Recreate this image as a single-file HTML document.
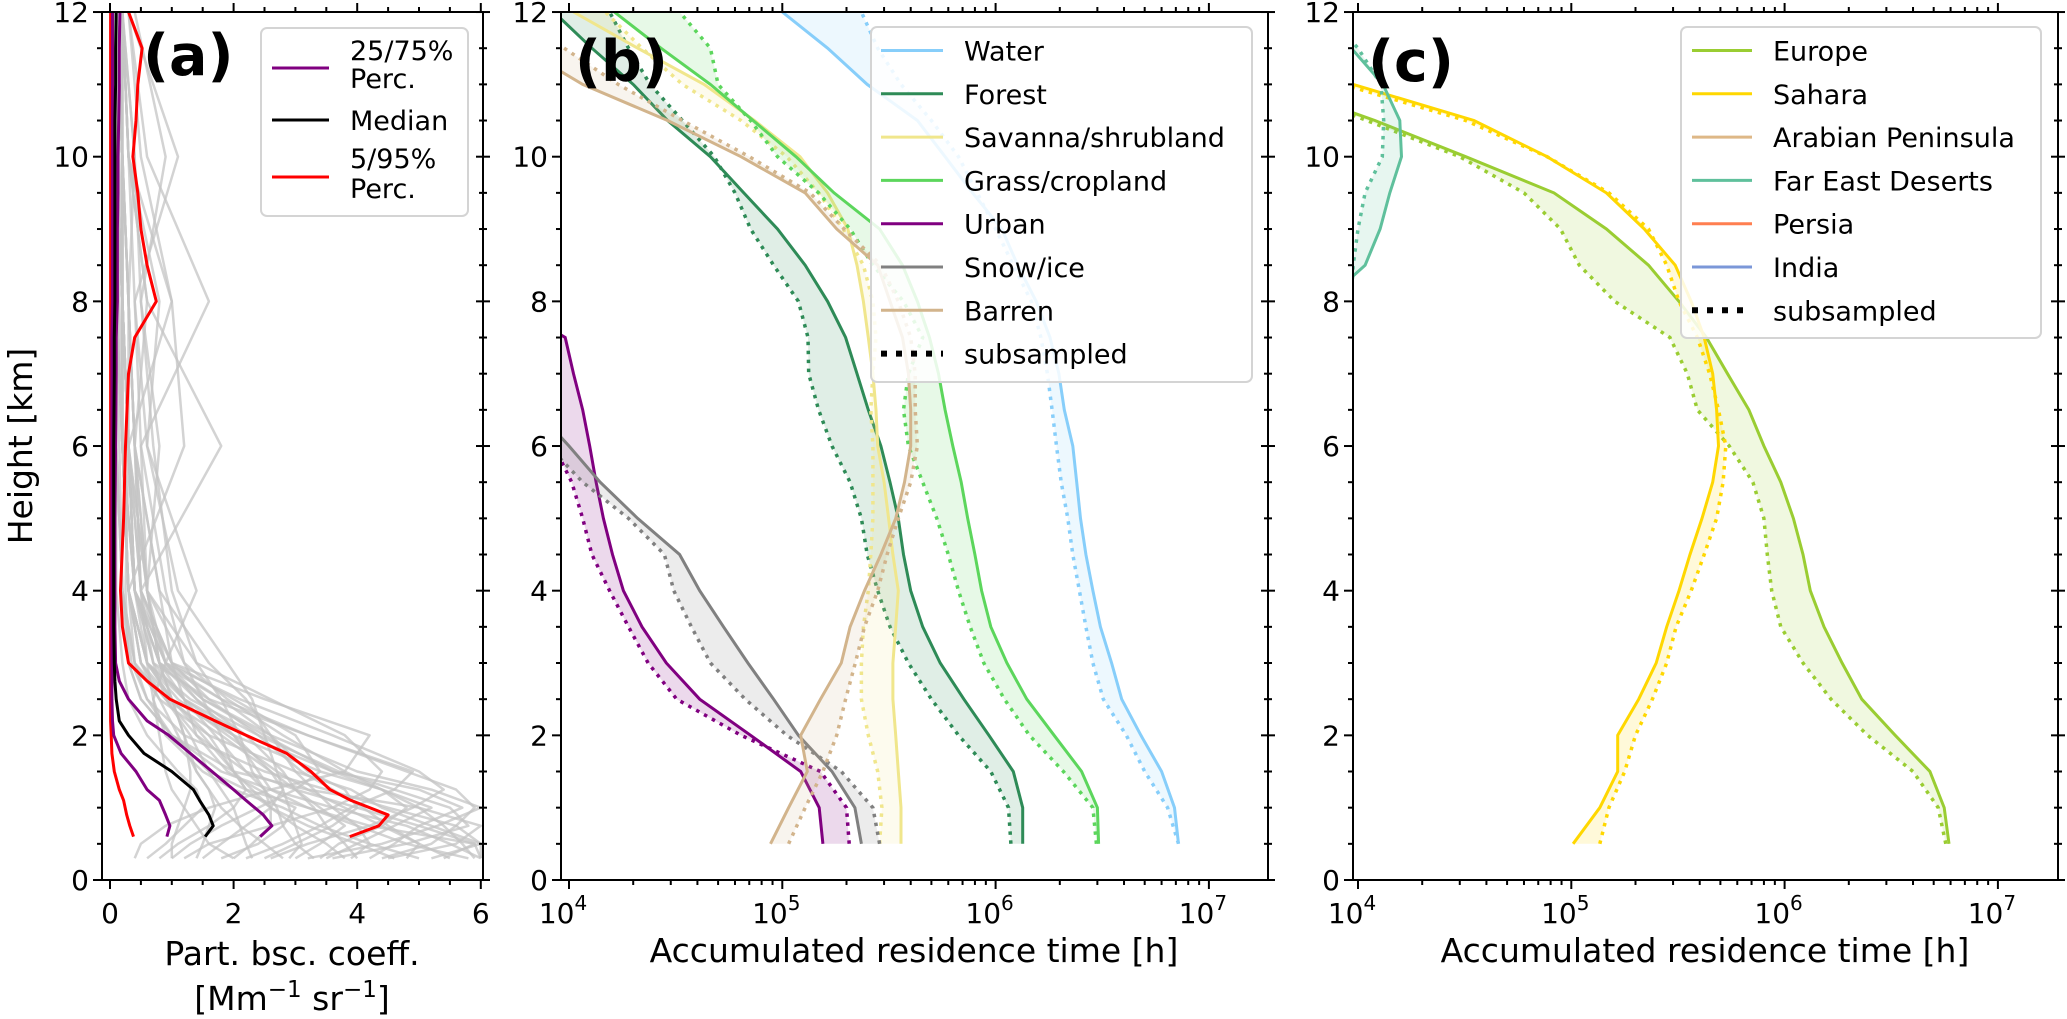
<!DOCTYPE html>
<html><head><meta charset="utf-8"><style>
html,body{margin:0;padding:0;background:#fff;}
svg{display:block;font-family:"DejaVu Sans","Liberation Sans",sans-serif;}
</style></head><body>
<svg id="chart" width="2067" height="1019" viewBox="0 0 2067 1019" xmlns="http://www.w3.org/2000/svg">
<defs>
<clipPath id="clipA"><rect x="102" y="12" width="381" height="868"/></clipPath>
<clipPath id="clipB"><rect x="561" y="12" width="707" height="868"/></clipPath>
<clipPath id="clipC"><rect x="1353" y="12" width="705" height="868"/></clipPath>
</defs>
<rect x="0" y="0" width="2067" height="1019" fill="#fff"/>
<g id="plotA" clip-path="url(#clipA)"></g>
<g id="plotB" clip-path="url(#clipB)"></g>
<g id="plotC" clip-path="url(#clipC)"></g>
<g id="axes"></g>
<rect x="102" y="12" width="381" height="868" fill="none" stroke="#000" stroke-width="2"/>
<rect x="561" y="12" width="707" height="868" fill="none" stroke="#000" stroke-width="2"/>
<rect x="1353" y="12" width="705" height="868" fill="none" stroke="#000" stroke-width="2"/>
<text x="143" y="75" font-size="57" font-weight="bold">(a)</text>
<text x="575" y="81" font-size="57" font-weight="bold">(b)</text>
<text x="1368" y="81" font-size="57" font-weight="bold">(c)</text>
<text transform="translate(32,446) rotate(-90)" text-anchor="middle" font-size="33">Height [km]</text>
<text x="292" y="965" text-anchor="middle" font-size="33">Part. bsc. coeff.</text>
<text x="292" y="1010" text-anchor="middle" font-size="33">[Mm<tspan dy="-13" font-size="23">−1</tspan><tspan dy="13"> sr</tspan><tspan dy="-13" font-size="23">−1</tspan><tspan dy="13">]</tspan></text>
<text x="914" y="962" text-anchor="middle" font-size="33">Accumulated residence time [h]</text>
<text x="1705" y="962" text-anchor="middle" font-size="33">Accumulated residence time [h]</text>
<g id="legends"></g>
</svg>
<script>
// ---------- data ----------
const H = [0.5,1,1.5,2,2.5,3,3.5,4,4.5,5,5.5,6,6.5,7,7.5,8,8.5,9,9.5,10,10.5,11,11.5,12];
const waterS = [7.2e6,6.9e6,6.0e6,4.8e6,3.9e6,3.5e6,3.1e6,2.86e6,2.65e6,2.5e6,2.4e6,2.3e6,2.1e6,1.98e6,1.8e6,1.55e6,1.27e6,1.07e6,7.8e5,5.8e5,4.3e5,2.5e5,1.63e5,1.0e5];
const waterD = [7.2e6,6.4e6,5.0e6,4.1e6,3.2e6,2.86e6,2.65e6,2.47e6,2.3e6,2.18e6,2.03e6,1.93e6,1.84e6,1.75e6,1.63e6,1.47e6,1.21e6,1.0e6,8.2e5,6.7e5,5.0e5,3.6e5,2.8e5,2.35e5];
const forestS = [1.34e6,1.34e6,1.21e6,9.3e5,7.1e5,5.5e5,4.55e5,4.0e5,3.7e5,3.5e5,3.2e5,2.9e5,2.53e5,2.24e5,1.98e5,1.63e5,1.28e5,9.5e4,6.6e4,4.6e4,2.9e4,2.0e4,1.28e4,8.5e3];
const forestD = [1.18e6,1.15e6,9.5e5,6.7e5,5.0e5,3.9e5,3.2e5,2.8e5,2.5e5,2.35e5,2.08e5,1.71e5,1.48e5,1.33e5,1.32e5,1.19e5,9.1e4,7.1e4,6.0e4,4.8e4,3.4e4,2.4e4,1.9e4,1.55e4];
const savS = [3.6e5,3.6e5,3.5e5,3.4e5,3.3e5,3.3e5,3.4e5,3.5e5,3.3e5,3.15e5,3.0e5,2.8e5,2.75e5,2.66e5,2.53e5,2.4e5,2.24e5,2.03e5,1.63e5,1.21e5,7.4e4,4.3e4,2.1e4,1.05e4];
const savD = [2.86e5,2.93e5,2.8e5,2.53e5,2.35e5,2.35e5,2.4e5,2.53e5,2.6e5,2.66e5,2.66e5,2.66e5,2.6e5,2.66e5,2.75e5,2.66e5,2.4e5,1.93e5,1.48e5,1.05e5,6.4e4,3.4e4,2.2e4,1.48e4];
const grassS = [3.04e6,3.0e6,2.53e6,1.88e6,1.4e6,1.13e6,9.5e5,8.6e5,8.0e5,7.4e5,6.9e5,6.3e5,5.8e5,5.4e5,4.9e5,4.3e5,3.66e5,2.86e5,1.75e5,1.16e5,7.3e4,4.6e4,2.7e4,1.63e4];
const grassD = [2.97e6,2.86e6,2.08e6,1.44e6,1.1e6,8.8e5,7.6e5,6.7e5,6.0e5,5.3e5,4.55e5,3.9e5,3.7e5,3.9e5,4.55e5,3.7e5,2.66e5,2.08e5,1.48e5,9.5e4,7.1e4,5.0e4,4.6e4,3.3e4];
const urbanS = [1.55e5,1.49e5,1.22e5,7.1e4,4.1e4,2.86e4,2.2e4,1.8e4,1.6e4,1.45e4,1.34e4,1.25e4,1.16e4,1.05e4,9.6e3,5e3,4e3,4e3,4e3,4e3,4e3,4e3,4e3,4e3];
const urbanD = [2.06e5,2.0e5,1.51e5,6.4e4,3.2e4,2.35e4,1.9e4,1.55e4,1.28e4,1.16e4,1.03e4,8.5e3,5e3,4e3,4e3,4e3,4e3,4e3,4e3,4e3,4e3,4e3,4e3,4e3];
const snowS = [2.35e5,2.19e5,1.71e5,1.19e5,9.1e4,6.9e4,5.3e4,4.1e4,3.3e4,2.1e4,1.4e4,1.0e4,7e3,5e3,4e3,4e3,4e3,4e3,4e3,4e3,4e3,4e3,4e3,4e3];
const snowD = [2.86e5,2.66e5,1.89e5,1.05e5,6.7e4,4.6e4,3.75e4,3.1e4,2.8e4,1.9e4,1.16e4,8e3,5e3,4e3,4e3,4e3,4e3,4e3,4e3,4e3,4e3,4e3,4e3,4e3];
const barS = [8.8e4,1.07e5,1.31e5,1.22e5,1.51e5,1.89e5,2.08e5,2.43e5,2.9e5,3.4e5,3.74e5,4.0e5,4.0e5,3.9e5,3.66e5,3.2e5,2.8e5,1.8e5,1.28e5,6.4e4,2.9e4,1.16e4,6e3,4e3];
const barD = [1.07e5,1.28e5,1.55e5,1.8e5,1.98e5,2.2e5,2.43e5,2.8e5,3.1e5,3.5e5,4.0e5,4.3e5,4.2e5,4.2e5,4.0e5,3.5e5,2.9e5,1.95e5,1.35e5,7e4,3.4e4,1.7e4,9.5e3,5e3];
const eurS = [5.9e6,5.6e6,4.8e6,3.3e6,2.3e6,1.86e6,1.53e6,1.32e6,1.22e6,1.1e6,9.6e5,8.0e5,6.8e5,5.4e5,4.3e5,3.2e5,2.3e5,1.46e5,8.3e4,3.2e4,1.2e4,4e3,2e3,1e3];
const eurD = [5.7e6,5.25e6,4.0e6,2.45e6,1.65e6,1.22e6,9.6e5,8.7e5,8.3e5,8.0e5,7.1e5,5.5e5,3.9e5,3.5e5,2.9e5,1.6e5,1.09e5,8.9e4,6.0e4,3.0e4,1.1e4,4e3,2e3,1e3];
const sahS = [1.02e5,1.36e5,1.65e5,1.65e5,2.07e5,2.5e5,2.8e5,3.2e5,3.6e5,4.1e5,4.6e5,4.9e5,4.8e5,4.6e5,4.2e5,3.65e5,3.07e5,2.2e5,1.46e5,7.7e4,3.5e4,9.5e3,4e3,2e3];
const sahD = [1.36e5,1.5e5,1.78e5,2.0e5,2.4e5,2.8e5,3.1e5,3.65e5,4.2e5,4.8e5,5.15e5,5.3e5,4.9e5,4.45e5,3.9e5,3.2e5,2.8e5,2.3e5,1.5e5,7.7e4,3.2e4,8.5e3,4e3,2e3];
const feS = [3e3,3e3,3e3,3e3,3e3,3e3,3e3,3e3,3e3,3e3,3e3,3e3,3e3,3e3,3e3,7e3,1.08e4,1.27e4,1.41e4,1.6e4,1.57e4,1.31e4,9.3e3,7e3];
const feD = [3e3,3e3,3e3,3e3,3e3,3e3,3e3,3e3,3e3,3e3,3e3,3e3,3e3,3e3,6e3,9.3e3,9.5e3,1.0e4,1.08e4,1.3e4,1.32e4,1.28e4,1.0e4,7e3];

const hP = [0.6,0.75,0.9,1.1,1.25,1.5,1.75,2.0,2.2,2.5,2.75,3.0,3.5,4,5,6,7,7.5,8,8.5,9,9.5,10,10.5,11,11.5,12];
const p05 = [0.38,0.32,0.27,0.22,0.15,0.07,0.03,0.02,0.01,0.01,0.01,0.01,0.01,0.01,0.01,0.01,0.01,0.01,0.01,0.01,0.01,0.01,0.01,0.01,0.01,0.01,0.01];
const p25 = [0.92,0.97,0.9,0.8,0.6,0.42,0.18,0.06,0.04,0.03,0.03,0.03,0.03,0.03,0.03,0.03,0.03,0.03,0.04,0.04,0.04,0.04,0.04,0.04,0.04,0.04,0.04];
const p50 = [1.54,1.67,1.6,1.45,1.35,1.0,0.55,0.3,0.15,0.1,0.08,0.07,0.06,0.06,0.06,0.06,0.07,0.07,0.08,0.08,0.08,0.08,0.08,0.08,0.09,0.09,0.1];
const p75 = [2.43,2.62,2.48,2.2,2.0,1.65,1.3,0.95,0.6,0.3,0.15,0.09,0.08,0.08,0.08,0.09,0.1,0.1,0.12,0.12,0.12,0.13,0.13,0.14,0.15,0.15,0.16];
const p95 = [3.88,4.35,4.5,3.9,3.56,3.25,2.86,2.2,1.7,0.97,0.6,0.3,0.2,0.17,0.22,0.25,0.3,0.4,0.75,0.6,0.5,0.45,0.37,0.42,0.45,0.52,0.3];
const hG = [0.3,0.5,0.75,1,1.25,1.5,2,2.5,3,4,6,8,10,12];
const greyProfiles = [
[6.0,5.5,4.8,3.6,2.6,1.8,1.0,0.5,0.3,0.2,0.15,0.1,0.1,0.1],
[5.2,6.0,5.6,4.5,3.5,2.5,1.2,0.6,0.35,0.2,0.1,0.1,0.1,0.1],
[3.5,4.0,4.6,5.2,4.4,3.4,2.0,1.0,0.5,0.3,0.2,0.15,0.1,0.1],
[2.5,3.0,3.6,4.0,3.8,3.2,2.6,1.8,0.8,0.4,0.2,0.2,0.2,0.1],
[1.5,1.8,2.2,2.6,2.8,2.6,1.8,0.9,0.4,0.2,0.1,0.1,0.1,0.1],
[0.6,0.9,1.2,1.5,1.4,1.1,0.6,0.3,0.2,0.1,0.1,0.05,0.05,0.05],
[4.5,5.6,6.0,5.0,3.2,2.0,1.0,0.5,0.3,0.25,0.3,0.2,0.15,0.1],
[3.8,3.5,3.0,2.6,2.3,2.0,1.6,1.0,0.6,0.5,0.4,0.3,0.2,0.2],
[2.2,2.8,3.4,3.9,4.6,4.9,3.2,1.6,0.7,0.4,0.3,0.3,0.4,0.2],
[1.0,1.3,1.8,2.4,3.0,3.4,3.0,2.0,1.0,0.5,0.4,0.6,0.3,0.2],
[5.8,4.8,4.0,3.2,2.2,1.6,1.0,0.6,0.4,0.3,1.2,1.0,0.5,0.3],
[2.8,2.5,2.1,1.8,1.6,1.4,1.2,1.0,0.8,0.6,0.5,1.6,0.6,0.3],
[6.0,5.9,4.2,3.2,2.6,2.4,2.0,1.2,0.8,0.6,0.8,0.5,0.9,0.4],
[0.4,0.5,0.9,1.6,2.6,3.8,4.2,2.5,1.0,0.4,0.3,0.2,0.2,0.2],
[4.2,4.6,5.0,5.7,5.0,3.6,2.2,1.2,0.6,0.3,0.2,0.1,0.1,0.1],
[3.0,3.4,3.8,3.4,3.0,2.8,2.2,1.4,0.9,0.6,0.3,0.2,0.1,0.1],
[1.8,2.4,2.8,3.0,2.4,1.9,1.4,1.2,1.0,0.8,0.4,0.3,0.2,0.1],
[5.0,4.2,3.4,2.8,2.0,1.5,0.9,0.7,0.6,0.4,0.3,1.0,0.3,0.2],
[2.0,1.6,1.4,1.2,1.0,0.9,0.8,0.7,0.9,1.4,0.6,0.4,0.3,0.2],
[3.2,4.4,5.3,6.0,5.2,4.0,2.6,1.5,0.9,0.5,0.3,0.2,0.2,0.1],
[6.0,6.0,5.2,4.4,3.9,3.0,1.6,0.8,0.4,0.2,0.1,0.1,0.1,0.1],
[4.8,5.0,4.4,3.8,3.2,2.7,1.9,1.1,0.6,0.3,0.2,0.1,0.1,0.1],
[3.6,4.8,5.8,5.5,4.6,3.7,2.4,1.3,0.6,0.3,0.2,0.2,0.1,0.1],
[2.6,3.2,4.2,4.9,5.4,5.0,3.6,2.1,0.9,0.4,0.2,0.2,0.1,0.1],
[1.2,1.6,2.6,3.6,4.2,4.4,3.8,2.6,1.4,0.6,0.3,0.2,0.1,0.1],
[0.8,1.1,1.6,2.0,2.2,2.0,1.5,1.0,0.6,0.3,0.2,0.1,0.1,0.1],
[5.5,5.0,4.5,4.1,3.6,3.1,2.4,1.6,1.0,0.5,0.3,0.2,0.2,0.1],
[4.0,3.8,3.5,3.3,3.0,2.6,2.0,1.4,0.8,0.4,0.3,0.2,0.2,0.1],
[3.3,3.0,2.8,2.7,2.5,2.2,1.7,1.2,0.7,0.4,0.3,0.2,0.1,0.1],
[2.3,2.2,2.1,2.0,1.8,1.6,1.3,0.9,0.5,0.3,0.2,0.2,0.1,0.1],
[1.4,1.5,1.6,1.7,1.6,1.4,1.1,0.8,0.5,0.3,0.2,0.1,0.1,0.1],
[5.9,5.7,5.4,5.0,4.4,3.6,2.5,1.5,0.8,0.4,0.2,0.2,0.1,0.1],
[4.4,5.2,5.6,5.9,5.6,4.8,3.2,1.8,0.9,0.4,0.3,0.2,0.2,0.1],
[3.9,4.2,4.0,3.6,3.3,3.0,2.6,2.2,1.6,0.8,0.4,0.3,0.2,0.1],
[2.9,3.1,3.0,2.9,2.8,2.7,2.5,2.3,1.9,1.1,0.6,0.8,0.3,0.2],
[2.0,2.3,2.6,2.6,2.5,2.3,2.1,1.8,1.4,1.0,0.7,0.5,0.4,0.2],
[1.0,1.0,1.1,1.2,1.3,1.3,1.2,1.0,0.8,0.6,0.4,0.3,0.2,0.1],
[5.4,5.9,5.0,4.0,3.0,2.2,1.4,0.9,0.7,0.5,1.8,0.6,0.3,0.2],
[4.6,4.0,3.2,2.6,2.2,2.0,1.8,1.5,1.2,0.9,0.5,0.4,1.1,0.3],
[3.4,3.7,4.4,4.8,4.4,3.8,2.8,1.9,1.2,0.6,0.4,0.3,0.2,0.2]
];
const yTicks = [0,2,4,6,8,10,12];
const xTicksA = [0,2,4,6];
const logTicks = [4,5,6,7];

// ---------- axis functions ----------
const NS = 'http://www.w3.org/2000/svg';
const Y = h => 880 - h * 72.33;
const XA = v => 110 + v * 61.8;
const XB = v => 569 + (Math.log10(v) - 4) * 213.3;
const XC = v => 1358 + (Math.log10(v) - 4) * 213.3;

function el(tag, attrs, parent) {
  const e = document.createElementNS(NS, tag);
  for (const k in attrs) e.setAttribute(k, attrs[k]);
  parent.appendChild(e);
  return e;
}
function pathD(xs, hs, fx) {
  return xs.map((v, i) => (i ? 'L' : 'M') + fx(v).toFixed(1) + ',' + Y(hs[i]).toFixed(1)).join(' ');
}
const gA = document.getElementById('plotA');
const gB = document.getElementById('plotB');
const gC = document.getElementById('plotC');
const axes = document.getElementById('axes');
const leg = document.getElementById('legends');

// panel a
greyProfiles.forEach((prof, i) => {
  const p = el('path', {d: pathD(prof, hG, XA), fill: 'none', stroke: '#c4c4c4', 'stroke-width': 2.5, 'stroke-opacity': 0.75, 'stroke-linejoin': 'round'}, gA);
  
  
});
[[p05, '#ff0000', 'p05-line'], [p95, '#ff0000', 'p95-line'], [p25, '#800080', 'p25-line'], [p75, '#800080', 'p75-line'], [p50, '#000000', 'median-line']].forEach(s => {
  const p = el('path', {d: pathD(s[0], hP, XA), fill: 'none', stroke: s[1], 'stroke-width': 3, 'stroke-linejoin': 'round'}, gA);
  
  
});

function drawPair(g, fx, sArr, dArr, color, name) {
  const fillD = pathD(sArr, H, fx) + ' ' + dArr.slice().reverse().map((v, i) => 'L' + fx(v).toFixed(1) + ',' + Y(H[H.length - 1 - i]).toFixed(1)).join(' ') + ' Z';
  const f = el('path', {d: fillD, fill: color, 'fill-opacity': 0.15, stroke: 'none'}, g);
  
  
  const s = el('path', {d: pathD(sArr, H, fx), fill: 'none', stroke: color, 'stroke-width': 3}, g);
  
  
  const d = el('path', {d: pathD(dArr, H, fx), fill: 'none', stroke: color, 'stroke-width': 3.5, 'stroke-dasharray': '3.5 5.5'}, g);
  
  
}
const cWater = '#87cefa', cForest = '#2e8b57', cSav = '#f0e68c', cGrass = '#5cd65c', cUrban = '#800080', cSnow = '#808080', cBar = '#d2b48c';
const cEur = '#9acd32', cSah = '#ffd700', cArab = '#deb887', cFE = '#5fc09c', cPer = '#ff7f50', cInd = '#7b97d8';
drawPair(gB, XB, waterS, waterD, cWater, 'water');
drawPair(gB, XB, forestS, forestD, cForest, 'forest');
drawPair(gB, XB, savS, savD, cSav, 'savanna');
drawPair(gB, XB, grassS, grassD, cGrass, 'grass');
drawPair(gB, XB, urbanS, urbanD, cUrban, 'urban');
drawPair(gB, XB, snowS, snowD, cSnow, 'snow');
drawPair(gB, XB, barS, barD, cBar, 'barren');
drawPair(gC, XC, eurS, eurD, cEur, 'europe');
drawPair(gC, XC, sahS, sahD, cSah, 'sahara');
drawPair(gC, XC, feS, feD, cFE, 'far-east');

// ---------- ticks ----------
function tick(x1, y1, x2, y2, name) {
  const t = el('line', {x1: x1, y1: y1, x2: x2, y2: y2, stroke: '#000', 'stroke-width': 2}, axes);
  
  
}
function label(x, y, txt, anchor, name) {
  const t = el('text', {x: x, y: y, 'font-size': 28, 'text-anchor': anchor}, axes);
  t.textContent = txt;
  
  
  return t;
}
function yAxis(xl, xr, pname) {
  for (let h = 0; h <= 12.001; h += 0.5) {
    const major = Math.abs(h % 2) < 1e-6;
    const y = Y(h);
    tick(xl, y, xl - (major ? 9 : 5), y, pname + '-y-tick');
    tick(xr - (major ? 7 : 4), y, xr + (major ? 7 : 4), y, pname + '-y-tick-right');
  }
  yTicks.forEach(v => label(xl - 13, Y(v) + 10, String(v), 'end', pname + '-y-tick-label'));
}
yAxis(102, 483, 'panel-a');
yAxis(561, 1268, 'panel-b');
yAxis(1353, 2058, 'panel-c');

for (let v = 0; v <= 6.001; v += 0.5) {
  const major = Math.abs(v % 2) < 1e-6;
  tick(XA(v), 880, XA(v), 880 + (major ? 9 : 5), 'panel-a-x-tick');
  tick(XA(v), 12, XA(v), 12 - (major ? 9 : 5), 'panel-a-x-tick-top');
}
xTicksA.forEach(v => label(XA(v), 923, String(v), 'middle', 'panel-a-x-tick-label'));

function logAxis(fx, x0, x1, pname) {
  for (let e = 3; e <= 7; e++) {
    for (let m = 1; m <= 9; m++) {
      const v = m * Math.pow(10, e);
      const x = fx(v);
      if (x < x0 - 0.5 || x > x1 + 0.5) continue;
      const L = m === 1 ? 9 : 5;
      tick(x, 880, x, 880 + L, pname + '-x-tick');
      tick(x, 12, x, 12 - L, pname + '-x-tick-top');
    }
  }
  logTicks.forEach(e => {
    const t = label(fx(Math.pow(10, e)) - 6, 923, '10', 'middle', pname + '-x-tick-label');
    const s = el('tspan', {dy: -13, 'font-size': 20}, t);
    s.textContent = String(e);
  });
}
logAxis(XB, 561, 1268, 'panel-b');
logAxis(XC, 1353, 2058, 'panel-c');

// ---------- legends ----------
function legendBox(x, y, w, h, name) {
  const r = el('rect', {x: x, y: y, width: w, height: h, rx: 6, fill: '#fff', 'fill-opacity': 0.85, stroke: '#d4d4d4', 'stroke-width': 2}, leg);
  
  
}
function legendEntry(lx0, lx1, tx, yc, color, text, dotted, name) {
  const l = el('line', {x1: lx0, y1: yc, x2: lx1, y2: yc, stroke: color, 'stroke-width': dotted ? 6 : 3, 'stroke-dasharray': dotted ? '6 9' : 'none'}, leg);
  
  
  const t = el('text', {x: tx, y: yc + 10, 'font-size': 27}, leg);
  t.textContent = text;
  
  
}
legendBox(261, 28, 207, 188, 'panel-a-legend');
legendEntry(272, 329, 350, 68, '#800080', '', false, 'legend-25-75');
legendEntry(272, 329, 350, 120, '#000000', 'Median', false, 'legend-median');
legendEntry(272, 329, 350, 177, '#ff0000', '', false, 'legend-5-95');
[['25/75%', 60], ['Perc.', 88], ['5/95%', 168], ['Perc.', 198]].forEach(a => {
  const t = el('text', {x: 350, y: a[1], 'font-size': 27}, leg);
  t.textContent = a[0];
  
  
});

legendBox(871, 27, 381, 355, 'panel-b-legend');
[[cWater, 'Water'], [cForest, 'Forest'], [cSav, 'Savanna/shrubland'], [cGrass, 'Grass/cropland'], [cUrban, 'Urban'], [cSnow, 'Snow/ice'], [cBar, 'Barren'], ['#000', 'subsampled']].forEach((e, i) => {
  legendEntry(881, 943, 964, 50.5 + 43.3 * i, e[0], e[1], e[1] === 'subsampled', 'legend-b-' + e[1].toLowerCase().replace('/', '-'));
});
legendBox(1681, 27, 360, 311, 'panel-c-legend');
[[cEur, 'Europe'], [cSah, 'Sahara'], [cArab, 'Arabian Peninsula'], [cFE, 'Far East Deserts'], [cPer, 'Persia'], [cInd, 'India'], ['#000', 'subsampled']].forEach((e, i) => {
  legendEntry(1692, 1752, 1773, 50.5 + 43.3 * i, e[0], e[1], e[1] === 'subsampled', 'legend-c-' + e[1].toLowerCase().replace(/ /g, '-'));
});
</script>
</body></html>
